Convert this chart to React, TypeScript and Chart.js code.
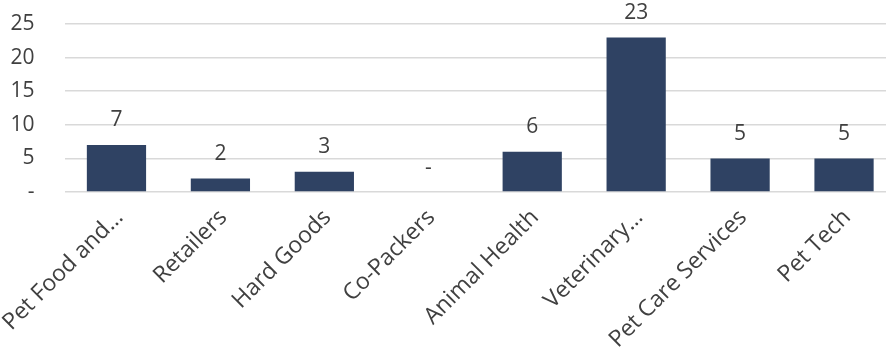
import React, { useEffect, useRef } from "react";
import { Chart, registerables } from "chart.js";

Chart.register(...registerables);

const categories = [
  "Pet Food and…",
  "Retailers",
  "Hard Goods",
  "Co-Packers",
  "Animal Health",
  "Veterinary…",
  "Pet Care Services",
  "Pet Tech",
];
const values = [7, 2, 3, 0, 6, 23, 5, 5];
const yMin = 0;
const yMax = 25;
const yStep = 5;

const FONT = "'Open Sans', Lato, sans-serif";
const TEXT = "#404040";
const BAR = "#2F4263";

const valueLabels = {
  id: "valueLabels",
  afterDatasetsDraw(chart: any) {
    const { ctx } = chart;
    const meta = chart.getDatasetMeta(0);
    ctx.save();
    ctx.font = `21px ${FONT}`;
    ctx.fillStyle = TEXT;
    ctx.textAlign = "center";
    ctx.textBaseline = "alphabetic";
    meta.data.forEach((bar: any, i: number) => {
      const v = values[i];
      ctx.fillText(v === 0 ? "-" : String(v), bar.x, bar.y - 18.5);
    });
    ctx.restore();
  },
};

export default function App() {
  const ref = useRef<HTMLCanvasElement | null>(null);
  useEffect(() => {
    document.body.style.margin = "0";
    document.body.style.overflow = "hidden";
    const chart = new Chart(ref.current!, {
      type: "bar",
      data: {
        labels: categories,
        datasets: [
          {
            data: values,
            backgroundColor: BAR,
            borderWidth: 0,
            barPercentage: 0.57,
            categoryPercentage: 1,
          },
        ],
      },
      options: {
        responsive: false,
        animation: false,
        devicePixelRatio: 1,
        layout: { padding: { top: 24, left: 0, right: 0, bottom: 0 } },
        plugins: { legend: { display: false }, tooltip: { enabled: false } },
        scales: {
          x: {
            grid: { display: false },
            border: { display: false },
            ticks: {
              color: TEXT,
              font: { family: FONT, size: 23 },
              maxRotation: 45,
              minRotation: 45,
              autoSkip: false,
              padding: 4,
              labelOffset: 3,
            },
            afterFit(scale: any) {
              scale.height = 162;
              scale.paddingLeft = 0;
              scale.paddingRight = 0;
              scale.paddingTop = 0;
              scale.paddingBottom = 0;
            },
          },
          y: {
            min: yMin,
            max: yMax,
            border: { display: false },
            grid: { color: "#D9D9D9", lineWidth: 1.5, drawTicks: false },
            ticks: {
              stepSize: yStep,
              color: TEXT,
              font: { family: FONT, size: 21 },
              padding: 30,
              callback: (v: any) => (Number(v) === 0 ? "-" : String(v)),
            },
            afterFit(scale: any) {
              scale.width = 64.5;
              scale.paddingLeft = 0;
              scale.paddingRight = 0;
              scale.paddingTop = 0;
              scale.paddingBottom = 0;
            },
          },
        },
      },
      plugins: [valueLabels],
    });
    return () => chart.destroy();
  }, []);
  return (
    <div style={{ position: "fixed", left: 0, top: 0, width: 896, height: 354 }}>
      <canvas ref={ref} width={896} height={354} />
    </div>
  );
}
